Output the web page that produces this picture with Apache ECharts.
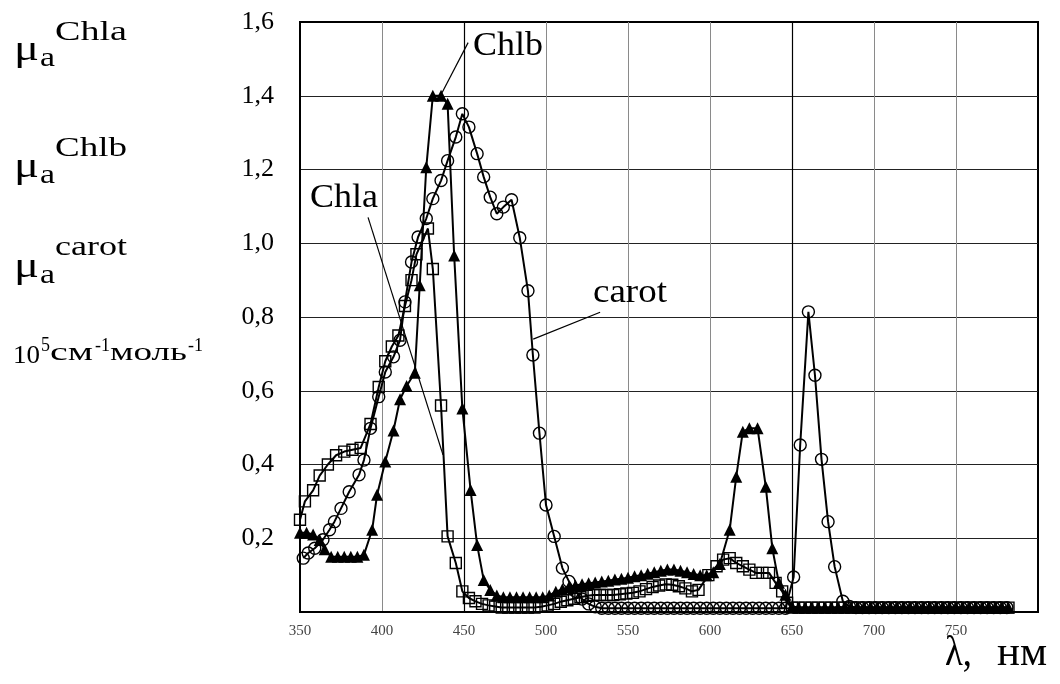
<!DOCTYPE html>
<html>
<head>
<meta charset="utf-8">
<script src="https://cdn.jsdelivr.net/npm/echarts@6/dist/echarts.min.js"></script>
<style>
  html, body { margin: 0; padding: 0; background: #fff; }
  #chart { width: 1060px; height: 684px; }
</style>
</head>
<body>
<div id="chart"></div>
<script>
// Molar absorption spectra of pigments, 10^5 cm^-1 mol^-1, vs wavelength in nm

// Chlorophyll a (open squares)
const chlaNm = [
  350, 353, 358, 362, 367, 372, 377, 382, 387, 393,
  398, 402, 406, 410, 414, 418, 421, 428, 431, 436,
  440, 445, 449, 453, 457, 461, 465, 469, 473, 477,
  481, 485, 489, 493, 497, 501, 505, 509, 513, 517,
  521, 525, 529, 533, 537, 541, 545, 549, 553, 557,
  561, 565, 569, 573, 577, 581, 585, 589, 593, 599,
  604, 608, 612, 616, 620, 624, 628, 632, 636, 640,
  644, 647, 650, 654, 658, 662, 666, 670, 674, 678,
  682, 686, 690, 694, 698, 702, 706, 710, 714, 718,
  722, 726, 730, 734, 738, 742, 746, 750, 754, 758,
  762, 766, 770, 774, 778, 782
];
const chlaVal = [
  0.25, 0.30, 0.33, 0.37, 0.40, 0.425, 0.435, 0.44, 0.445, 0.51,
  0.61, 0.68, 0.72, 0.75, 0.83, 0.90, 0.97, 1.04, 0.93, 0.56,
  0.205, 0.133, 0.056, 0.038, 0.029, 0.022, 0.018, 0.015, 0.012, 0.012,
  0.012, 0.012, 0.012, 0.012, 0.014, 0.018, 0.022, 0.028, 0.032, 0.036,
  0.04, 0.044, 0.046, 0.046, 0.046, 0.046, 0.048, 0.05, 0.052, 0.056,
  0.062, 0.068, 0.072, 0.075, 0.074, 0.07, 0.064, 0.056, 0.06, 0.10,
  0.124, 0.142, 0.146, 0.133, 0.124, 0.115, 0.106, 0.106, 0.106, 0.079,
  0.056, 0.025, 0.012, 0.012, 0.012, 0.012, 0.012, 0.012, 0.012, 0.012,
  0.012, 0.012, 0.012, 0.012, 0.012, 0.012, 0.012, 0.012, 0.012, 0.012,
  0.012, 0.012, 0.012, 0.012, 0.012, 0.012, 0.012, 0.012, 0.012, 0.012,
  0.012, 0.012, 0.012, 0.012, 0.012, 0.012
];

// Chlorophyll b (filled triangles)
const chlbNm = [
  350, 354, 358, 362, 365, 369, 373, 377, 381, 385,
  389, 394, 397, 402, 407, 411, 415, 420, 423, 427,
  431, 436, 440, 444, 449, 454, 458, 462, 466, 470,
  474, 478, 482, 486, 490, 494, 498, 502, 506, 510,
  514, 518, 522, 526, 530, 534, 538, 542, 546, 550,
  554, 558, 562, 566, 570, 574, 578, 582, 586, 590,
  594, 598, 602, 606, 612, 616, 620, 624, 629, 634,
  638, 642, 646, 650, 654, 658, 662, 666, 670, 674,
  678, 682, 686, 690, 694, 698, 702, 706, 710, 714,
  718, 722, 726, 730, 734, 738, 742, 746, 750, 754,
  758, 762, 766, 770, 774, 778, 782
];
const chlbVal = [
  0.215, 0.215, 0.21, 0.195, 0.17, 0.15, 0.15, 0.15, 0.15, 0.15,
  0.155, 0.223, 0.318, 0.408, 0.492, 0.577, 0.613, 0.649, 0.886, 1.206,
  1.40, 1.40, 1.378, 0.967, 0.552, 0.331, 0.182, 0.087, 0.06, 0.045,
  0.04, 0.04, 0.04, 0.04, 0.04, 0.04, 0.04, 0.045, 0.055, 0.062,
  0.068, 0.072, 0.075, 0.078, 0.08, 0.083, 0.085, 0.088, 0.09, 0.093,
  0.097, 0.10, 0.104, 0.108, 0.112, 0.115, 0.115, 0.112, 0.108, 0.103,
  0.10, 0.10, 0.108, 0.13, 0.223, 0.367, 0.489, 0.498, 0.498, 0.34,
  0.173, 0.079, 0.047, 0.015, 0.012, 0.012, 0.012, 0.012, 0.012, 0.012,
  0.012, 0.012, 0.012, 0.012, 0.012, 0.012, 0.012, 0.012, 0.012, 0.012,
  0.012, 0.012, 0.012, 0.012, 0.012, 0.012, 0.012, 0.012, 0.012, 0.012,
  0.012, 0.012, 0.012, 0.012, 0.012, 0.012, 0.012
];

// Carotenoids (open circles)
const carotNm = [
  352, 355, 359, 364, 368, 371, 375, 380, 386, 389,
  393, 398, 402, 407, 411, 414, 418, 422, 427, 431,
  436, 440, 445, 449, 453, 458, 462, 466, 470, 474,
  479, 484, 489, 492, 496, 500, 505, 510, 514, 518,
  522, 526, 530, 534, 538, 542, 546, 550, 554, 558,
  562, 566, 570, 574, 578, 582, 586, 590, 594, 598,
  602, 606, 610, 614, 618, 622, 626, 630, 634, 638,
  642, 646, 651, 655, 660, 664, 668, 672, 676, 681,
  685, 689, 693, 697, 701, 705, 709, 713, 717, 721,
  725, 729, 733, 737, 741, 745, 749, 753, 757, 761,
  765, 769, 773, 777, 781
];
const carotVal = [
  0.146, 0.16, 0.173, 0.196, 0.223, 0.245, 0.281, 0.326, 0.372, 0.412,
  0.498, 0.584, 0.651, 0.692, 0.737, 0.841, 0.949, 1.017, 1.067, 1.121,
  1.17, 1.224, 1.288, 1.351, 1.315, 1.243, 1.18, 1.125, 1.08, 1.098,
  1.118, 1.015, 0.871, 0.697, 0.485, 0.29, 0.205, 0.119, 0.083, 0.056,
  0.035, 0.022, 0.014, 0.01, 0.01, 0.01, 0.01, 0.01, 0.01, 0.01,
  0.01, 0.01, 0.01, 0.01, 0.01, 0.01, 0.01, 0.01, 0.01, 0.01,
  0.01, 0.01, 0.01, 0.01, 0.01, 0.01, 0.01, 0.01, 0.01, 0.01,
  0.01, 0.01, 0.095, 0.453, 0.814, 0.642, 0.414, 0.245, 0.123, 0.029,
  0.015, 0.012, 0.012, 0.012, 0.012, 0.012, 0.012, 0.012, 0.012, 0.012,
  0.012, 0.012, 0.012, 0.012, 0.012, 0.012, 0.012, 0.012, 0.012, 0.012,
  0.012, 0.012, 0.012, 0.012, 0.012
];

// Tick labels
const xTickLabels = ['350', '400', '450', '500', '550', '600', '650', '700', '750'];
const yTickLabels = ['0,2', '0,4', '0,6', '0,8', '1,0', '1,2', '1,4', '1,6'];

const zip = (xs, ys) => xs.map((x, i) => [x, ys[i]]);

const SERIF = '"Liberation Serif", "Times New Roman", serif';
const chart = echarts.init(document.getElementById('chart'), null, { renderer: 'canvas' });

// Stretch a text run horizontally so it spans a given width
const measureCtx = document.createElement('canvas').getContext('2d');
function textRun(text, left, baseline, size, width) {
  measureCtx.font = size + 'px ' + SERIF;
  const w = measureCtx.measureText(text).width || 1;
  return {
    type: 'text',
    x: left,
    y: baseline - 0.34 * size,
    scaleX: width / w,
    silent: true,
    z: 100,
    style: {
      text: text,
      x: 0, y: 0,
      fill: '#000',
      font: size + 'px ' + SERIF,
      align: 'left',
      verticalAlign: 'middle'
    }
  };
}

const leaderStyle = { color: '#000', width: 1.2, type: 'solid' };
const openMarker = { color: 'rgba(255,255,255,0)', borderColor: '#000', borderWidth: 1.4 };

const option = {
  animation: false,
  backgroundColor: '#fff',
  grid: {
    left: 300, top: 22, right: 22, bottom: 72,
    show: true, borderColor: '#000', borderWidth: 2, backgroundColor: 'transparent'
  },
  xAxis: {
    type: 'value',
    min: 350, max: 800, interval: 50,
    axisLine: { show: true, onZero: false, lineStyle: { color: '#000', width: 2 } },
    axisTick: { show: false },
    splitLine: { show: true, showMinLine: false, showMaxLine: false, lineStyle: { color: '#8a8a8a', width: 1 } },
    axisLabel: {
      margin: 12,
      color: '#444',
      fontFamily: SERIF,
      fontSize: 15,
      formatter: v => (xTickLabels.indexOf(String(v)) >= 0 ? String(v) : '')
    }
  },
  yAxis: {
    type: 'value',
    min: 0, max: 1.6, interval: 0.2,
    axisLine: { show: true, onZero: false, lineStyle: { color: '#000', width: 2 } },
    axisTick: { show: false },
    splitLine: { show: true, showMinLine: false, showMaxLine: false, lineStyle: { color: '#222', width: 1 } },
    axisLabel: {
      margin: 26,
      color: '#000',
      fontFamily: SERIF,
      fontSize: 26,
      formatter: v => {
        const i = Math.round(v / 0.2) - 1;
        return i >= 0 && i < yTickLabels.length ? yTickLabels[i] : '';
      }
    }
  },
  series: [
    {
      name: 'carot',
      type: 'line',
      data: zip(carotNm, carotVal),
      symbol: 'circle',
      symbolSize: 12,
      itemStyle: openMarker,
      lineStyle: { color: '#000', width: 2 },
      z: 3,
      markLine: {
        silent: true, symbol: 'none', animation: false,
        label: { show: false },
        lineStyle: leaderStyle,
        data: [
          [{ coord: [533.0, 0.813] }, { coord: [492.2, 0.740] }]
        ]
      }
    },
    {
      name: 'Chla',
      type: 'line',
      data: zip(chlaNm, chlaVal),
      symbol: 'rect',
      symbolSize: 11,
      itemStyle: openMarker,
      lineStyle: { color: '#000', width: 2 },
      z: 4,
      markLine: {
        silent: true, symbol: 'none', animation: false,
        label: { show: false },
        lineStyle: leaderStyle,
        data: [
          [{ coord: [391.5, 1.070] }, { coord: [437.2, 0.426] }],
          // darker reference verticals
          { xAxis: 450, lineStyle: { color: '#000', width: 1.2 } },
          { xAxis: 650, lineStyle: { color: '#000', width: 1.2 } }
        ]
      }
    },
    {
      name: 'Chlb',
      type: 'line',
      data: zip(chlbNm, chlbVal),
      symbol: 'triangle',
      symbolSize: 12,
      itemStyle: { color: '#000' },
      lineStyle: { color: '#000', width: 2 },
      z: 5,
      markLine: {
        silent: true, symbol: 'none', animation: false,
        label: { show: false },
        lineStyle: leaderStyle,
        data: [
          [{ coord: [452.5, 1.544] }, { coord: [436.6, 1.408] }]
        ]
      }
    }
  ],
  graphic: [
    // quantity names on the left
    textRun('\u03bc', 14, 63, 36, 25),
    textRun('a', 40, 68, 28, 15),
    textRun('Chla', 55, 42, 28, 72),
    textRun('\u03bc', 14, 180, 36, 25),
    textRun('a', 40, 185, 28, 15),
    textRun('Chlb', 55, 158, 28, 72),
    textRun('\u03bc', 14, 280, 36, 25),
    textRun('a', 40, 285, 28, 15),
    textRun('carot', 55, 257, 28, 72),
    // units
    textRun('10', 13, 365, 25, 27),
    textRun('5', 41, 353, 20, 9),
    textRun('\u0441\u043c', 50, 362, 25, 43),
    textRun('-1', 95, 352, 18, 15),
    textRun('\u043c\u043e\u043b\u044c', 110, 362, 25, 77),
    textRun('-1', 188, 352, 18, 15),
    // x axis title
    textRun('\u03bb,', 945, 668, 42, 27),
    textRun('\u043d\u043c', 997, 668, 42, 50),
    // curve names
    textRun('Chlb', 473, 58, 34, 70),
    textRun('Chla', 310, 210, 34, 68),
    textRun('carot', 593, 305, 34, 74)
  ]
};

chart.setOption(option);
</script>
</body>
</html>
